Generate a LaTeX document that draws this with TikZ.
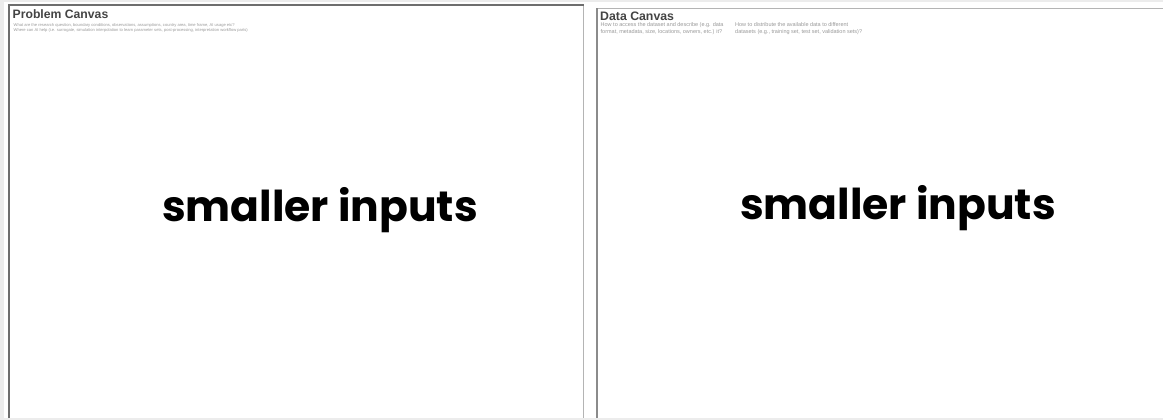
\documentclass[tikz,border=0pt]{standalone}
\usepackage{fontspec}
\setmainfont{Liberation Sans}
\newfontfamily\popfont{Poppins}
\definecolor{bggray}{HTML}{ECECEC}
\definecolor{darkedge}{HTML}{6E6E6E}
\definecolor{lightedge}{HTML}{B4B4B4}
\definecolor{titlegray}{HTML}{444444}
\definecolor{notegray}{HTML}{9A9A9A}
\tikzset{
  title/.style={anchor=base west, inner sep=0pt, font=\bfseries\fontsize{12.2}{13}\selectfont, text=titlegray},
  note/.style={anchor=base west, inner sep=0pt, font=\fontsize{4.1}{5}\selectfont, text=notegray},
  dnote/.style={anchor=base west, inner sep=0pt, font=\fontsize{5.5}{6}\selectfont, text=notegray},
  big/.style={inner sep=0pt, font=\popfont\bfseries\fontsize{42.5}{45}\selectfont, text=black},
}
\begin{document}
\begin{tikzpicture}[x=1pt,y=-1pt]
\useasboundingbox (0,0) rectangle (1163,420);
\fill[white] (0,0) rectangle (1163,420);
% background strips
\fill[bggray] (0,0) rectangle (1163,2);
\fill[bggray] (0,0) rectangle (4,420);
\fill[bggray] (0,418) rectangle (1163,420);
% left panel
\coordinate (ltl) at (9,5);
\coordinate (ltr) at (583.5,5);
\coordinate (lbl) at (9,418);
\coordinate (lbr) at (583.5,418);
\draw[lightedge, line width=1.2pt] (ltr) -- (lbr);
\draw[darkedge, line width=1.4pt] (lbl) -- (ltl) -- (ltr);
% right panel
\coordinate (rtl) at (597,8.5);
\coordinate (rtr) at (1163,8.5);
\coordinate (rbl) at (597,418);
\draw[lightedge, line width=1.6pt] (rtl) -- (rtr);
\draw[darkedge!80, line width=1.2pt] (rtl) -- (rbl);
% left texts
\node[title] (ptitle) at (12.5,18.3) {Problem Canvas};
\node[note] (pn1) at (13.5,27) {What are the research question, boundary conditions, observations, assumptions, country area, time frame, AI usage etc?};
\node[note] (pn2) at (13.5,32) {Where can AI help (i.e. surrogate, simulation interpolation to learn parameter sets, post-processing, interpretation workflow parts)};
\node[big] (lbig) at (320,210) {smaller inputs};
% right texts
\node[title, font=\bfseries\fontsize{12.3}{13}\selectfont] (dtitle) at (600,21) {Data Canvas};
\node[dnote] (dn1) at (600.5,26.8) {How to access the dataset and describe (e.g. data};
\node[dnote] (dn2) at (600.5,34) {format, metadata, size, locations, owners, etc.) it?};
\node[dnote] (dn3) at (735,26.8) {How to distribute the available data to different};
\node[dnote] (dn4) at (735,34) {datasets (e.g., training set, test set, validation sets)?};
\node[big] (rbig) at (898,208) {smaller inputs};
\end{tikzpicture}
\end{document}
